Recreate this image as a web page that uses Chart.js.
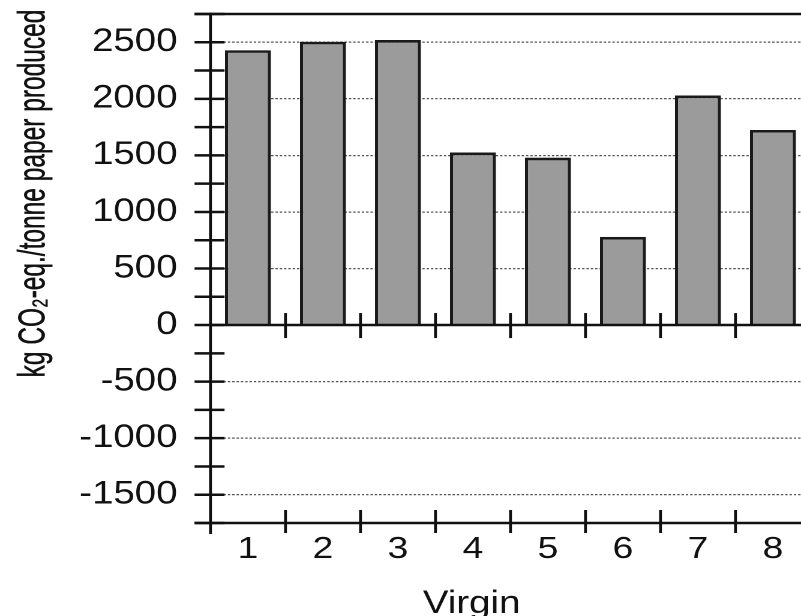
<!DOCTYPE html>
<html>
<head>
<meta charset="utf-8">
<script src="https://cdn.jsdelivr.net/npm/chart.js@4/dist/chart.umd.min.js"></script>
<style>
  html, body { margin: 0; padding: 0; overflow: hidden; background: #fff; width: 801px; height: 616px; }
  #wrap { position: absolute; left: 0; top: 0; width: 690px; height: 616px; transform: scaleX(1.2); transform-origin: 0 0; }
</style>
</head>
<body>
<div id="wrap"><canvas id="c"></canvas></div>
<script>
// ---- data ----
const categories = ['1', '2', '3', '4', '5', '6', '7', '8'];
const emissions = [2430, 2505, 2520, 1525, 1480, 780, 2030, 1725];
const yTickLabels = [-1500, -1000, -500, 0, 500, 1000, 1500, 2000, 2500];
const yMin = -1750, yMax = 2750, yMinorStep = 250;
const yTitle = 'kg CO\u2082-eq./tonne paper produced';
const xTitle = 'Virgin';

Chart.defaults.font.family = '"Liberation Sans", Arial, sans-serif';
Chart.defaults.color = '#111';

const axisPlugin = {
  id: 'axisDecor',
  afterDatasetsDraw(chart) {
    const ctx = chart.ctx, a = chart.chartArea;
    const yS = chart.scales.y, xS = chart.scales.x;
    const L = a.left, R = a.right;
    const yBot = yS.getPixelForValue(yMin);
    const y0 = yS.getPixelForValue(0);
    ctx.save();
    ctx.strokeStyle = '#111';
    ctx.lineCap = 'butt';
    const line = (x1, y1, x2, y2) => { ctx.beginPath(); ctx.moveTo(x1, y1); ctx.lineTo(x2, y2); ctx.stroke(); };
    // horizontal lines
    ctx.lineWidth = 2.5;
    for (let v = yMin; v <= yMax; v += yMinorStep) {
      const y = yS.getPixelForValue(v);
      line(L - 13.3, y, L + 11.7, y);
    }
    line(L - 13.3, a.top, R + 20, a.top);
    line(L - 13.3, yBot, R + 20, yBot);
    line(L, y0, R + 20, y0);
    // vertical lines
    ctx.lineWidth = 2.4;
    line(L, a.top - 1.2, L, yBot + 11);
    const half = (xS.getPixelForValue(1) - xS.getPixelForValue(0)) / 2;
    for (let i = 1; i < categories.length; i++) {
      const x = xS.getPixelForValue(i) - half;
      line(x, y0 - 12, x, y0 + 13);
      line(x, yBot - 13, x, yBot + 10);
    }
    ctx.restore();
  },
  afterDraw(chart) {
    const ctx = chart.ctx;
    ctx.save();
    ctx.fillStyle = '#111';
    ctx.strokeStyle = '#111';
    ctx.lineWidth = 0.35;
    // y axis title
    ctx.font = '24.5px "Liberation Sans", Arial, sans-serif';
    ctx.translate(28.5, 193.5);
    ctx.scale(1.29, 1);
    ctx.rotate(-Math.PI / 2);
    ctx.textAlign = 'center';
    ctx.textBaseline = 'middle';
    ctx.fillText(yTitle, 0, 0);
    ctx.strokeText(yTitle, 0, 0);
    ctx.restore();
    ctx.save();
    ctx.fillStyle = '#111';
    ctx.font = '32px "Liberation Sans", Arial, sans-serif';
    ctx.textAlign = 'center';
    ctx.textBaseline = 'alphabetic';
    ctx.fillText(xTitle, 393, 613);
    ctx.restore();
  }
};

new Chart(document.getElementById('c'), {
  type: 'bar',
  data: {
    labels: categories,
    datasets: [{
      data: emissions,
      backgroundColor: '#9b9b9b',
      borderColor: '#1a1a1a',
      borderWidth: 2.7,
      borderSkipped: 'start',
      barPercentage: 0.613,
      categoryPercentage: 1
    }]
  },
  options: {
    responsive: true,
    maintainAspectRatio: false,
    devicePixelRatio: 2,
    animation: false,
    layout: { padding: { left: 0, top: 14, right: 14.6, bottom: 0 } },
    plugins: { legend: { display: false }, tooltip: { enabled: false } },
    scales: {
      x: {
        type: 'category',
        offset: true,
        grid: { display: false, drawTicks: false },
        border: { display: false },
        ticks: { font: { size: 31 }, padding: 8, color: '#111', maxRotation: 0, autoSkip: false },
        afterFit(s) { s.height = 93; s.paddingLeft = 0; s.paddingRight = 0; }
      },
      y: {
        min: yMin,
        max: yMax,
        border: { display: false, dash: [2, 1.6] },
        grid: {
          drawTicks: false,
          lineWidth: 1.2,
          color: (c) => (c.tick && c.tick.value !== 0 && yTickLabels.includes(c.tick.value)) ? '#555' : 'rgba(0,0,0,0)'
        },
        ticks: {
          stepSize: yMinorStep,
          autoSkip: false,
          padding: 27.5,
          color: '#111',
          font: { size: 32 },
          callback: (v) => yTickLabels.includes(v) ? String(v) : ''
        },
        afterFit(s) { s.width = 175.4; s.paddingTop = 0; s.paddingBottom = 0; }
      }
    }
  },
  plugins: [axisPlugin]
});
</script>
</body>
</html>
